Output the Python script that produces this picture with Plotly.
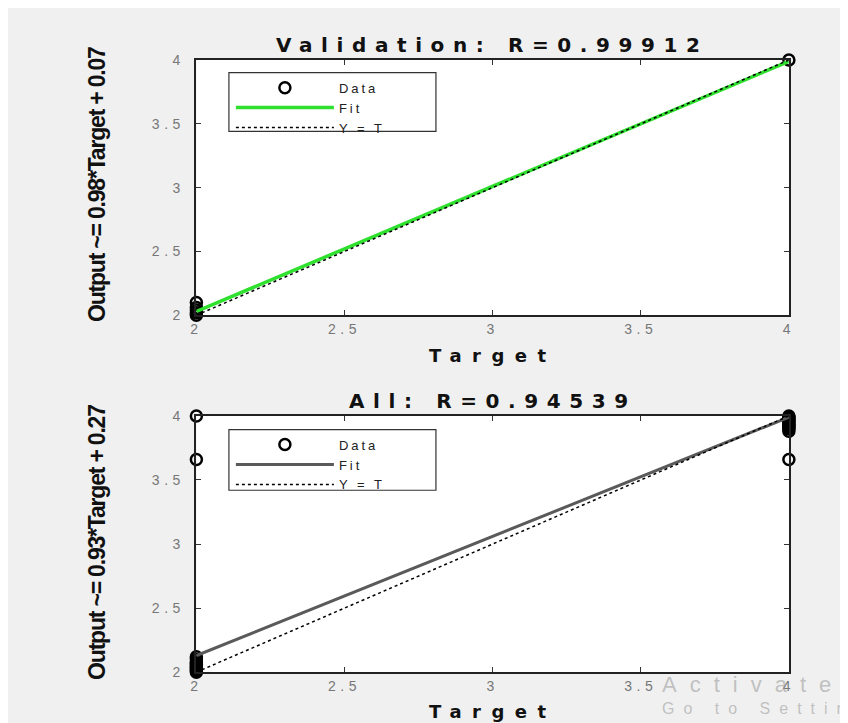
import plotly.graph_objects as go

# ---------------- data ----------------
ticks = [2, 2.5, 3, 3.5, 4]
tick_labels = ["2", "2.5", "3", "3.5", "4"]

val_title = "Validation: R=0.99912"
val_ylabel = "Output ~= 0.98*Target + 0.07"
val_target = [2, 2, 2, 2, 2, 4]
val_output = [2.0, 2.02, 2.04, 2.06, 2.1, 4.0]
val_fit_x = [2, 4]
val_fit_y = [2.03, 3.99]

all_title = "All: R=0.94539"
all_ylabel = "Output ~= 0.93*Target + 0.27"
all_target = [2, 2, 2, 2, 2, 2, 2, 2, 2, 2, 2, 2, 2, 2,
              4, 4, 4, 4, 4, 4, 4, 4, 4, 4, 4, 4, 4, 4]
all_output = [1.99, 2.0, 2.01, 2.02, 2.03, 2.04, 2.05, 2.06, 2.07, 2.08, 2.1, 2.12, 3.66, 4.0,
              3.66, 3.88, 3.9, 3.91, 3.92, 3.93, 3.94, 3.95, 3.96, 3.97, 3.98, 3.99, 4.0, 4.01]
all_fit_x = [2, 4]
all_fit_y = [2.13, 3.99]

ident_x = [2, 4]
ident_y = [2, 4]

W, H = 848, 723
def px(x): return x / W
def py(y): return 1 - y / H

def spaced(t, sp):
    return f'<span style="letter-spacing:{sp}px">{t}</span>'

fig = go.Figure()

def add_panel(xa, ya, legend, tx, ty, fx, fy, fitcolor, fitwidth):
    fig.add_trace(go.Scatter(
        x=tx, y=ty, mode="markers", name=spaced("Data", 3),
        marker=dict(symbol="circle-open", size=11, color="black", line=dict(width=2.5)),
        xaxis=xa, yaxis=ya, legend=legend, cliponaxis=False))
    fig.add_trace(go.Scatter(
        x=fx, y=fy, mode="lines", name=spaced("Fit", 3),
        line=dict(color=fitcolor, width=fitwidth),
        xaxis=xa, yaxis=ya, legend=legend, cliponaxis=False))
    fig.add_trace(go.Scatter(
        x=ident_x, y=ident_y, mode="lines", name=spaced("Y = T", 3),
        line=dict(color="black", width=1.5, dash="dot"),
        xaxis=xa, yaxis=ya, legend=legend, cliponaxis=False))

add_panel("x", "y", "legend", val_target, val_output, val_fit_x, val_fit_y, "#2fe02f", 3.5)
add_panel("x2", "y2", "legend2", all_target, all_output, all_fit_x, all_fit_y, "#5a5a5a", 3)

tickfont = dict(family="Liberation Sans, Arial", size=14, color="#777777")
ticktext = [spaced(t, 4.5) for t in tick_labels]

def axis_common(is_y):
    d = dict(range=[2, 4], tickmode="array", tickvals=ticks, ticktext=ticktext,
             ticks="inside", ticklen=5, tickcolor="#333", mirror="ticks",
             showline=True, linecolor="#222", linewidth=1.5,
             showgrid=False, zeroline=False, tickfont=tickfont, fixedrange=True)
    if is_y:
        d["ticklabelstandoff"] = 7
    return d

L, R = px(185), px(786)
legfont = dict(family="Liberation Sans, Arial", size=13, color="#222")
fig.update_layout(
    width=W, height=H,
    margin=dict(l=0, r=0, t=0, b=0),
    paper_bgcolor="#f0f0f0", plot_bgcolor="white",
    xaxis=dict(domain=[L, R], anchor="y", **axis_common(False)),
    yaxis=dict(domain=[py(306), py(45)], anchor="x", **axis_common(True)),
    xaxis2=dict(domain=[L, R], anchor="y2", **axis_common(False)),
    yaxis2=dict(domain=[py(671), py(409)], anchor="x2", **axis_common(True)),
    legend=dict(x=px(220), y=py(58), xanchor="left", yanchor="top",
                bgcolor="rgba(0,0,0,0)", borderwidth=0, itemwidth=98,
                font=legfont, tracegroupgap=0),
    legend2=dict(x=px(220), y=py(423), xanchor="left", yanchor="top",
                 bgcolor="rgba(0,0,0,0)", borderwidth=0, itemwidth=98,
                 font=legfont, tracegroupgap=0),
    showlegend=True,
)

# legend boxes
for (y0, y1) in [(58, 118), (423, 485)]:
    fig.add_shape(type="rect", xref="paper", yref="paper",
                  x0=px(218), x1=px(428), y0=py(y1), y1=py(y0),
                  line=dict(color="#333", width=1.2), fillcolor="white", layer="above")

cx = (px(185) + px(786)) / 2
titlefont = dict(family="DejaVu Sans, Liberation Sans", size=20, color="#111")
labfont = dict(family="DejaVu Sans, Liberation Sans", size=18, color="#111")
yfont = dict(family="Liberation Sans, Arial", size=23, color="#111")

ann = [
    dict(text="<b>" + spaced(val_title, 8.6) + "</b>", x=cx, y=py(30), font=titlefont),
    dict(text="<b>" + spaced(all_title, 8.6) + "</b>", x=cx, y=py(394), font=titlefont),
    dict(text="<b>" + spaced("Target", 10.5) + "</b>", x=cx, y=py(347), font=labfont),
    dict(text="<b>" + spaced("Target", 10.5) + "</b>", x=cx, y=py(711), font=labfont),
    dict(text="<b>" + spaced(val_ylabel, -1.2) + "</b>", x=px(84), y=py(172), font=yfont, textangle=-90),
    dict(text="<b>" + spaced(all_ylabel, -1.2) + "</b>", x=px(84), y=py(538), font=yfont, textangle=-90),
]
for a in ann:
    fig.add_annotation(xref="paper", yref="paper", showarrow=False,
                       xanchor="center", yanchor="middle", **a)

# screenshot watermark
fig.add_annotation(xref="paper", yref="paper", showarrow=False, xanchor="left", yanchor="middle",
                   x=px(655), y=py(684), text=spaced("Activate Windows", 13),
                   font=dict(family="Liberation Sans", size=22, color="rgba(150,150,150,0.55)"))
fig.add_annotation(xref="paper", yref="paper", showarrow=False, xanchor="left", yanchor="middle",
                   x=px(655), y=py(708), text=spaced("Go to Settings to activate Windows.", 9),
                   font=dict(family="Liberation Sans", size=16, color="rgba(150,150,150,0.55)"))

fig.write_html("out.html")
